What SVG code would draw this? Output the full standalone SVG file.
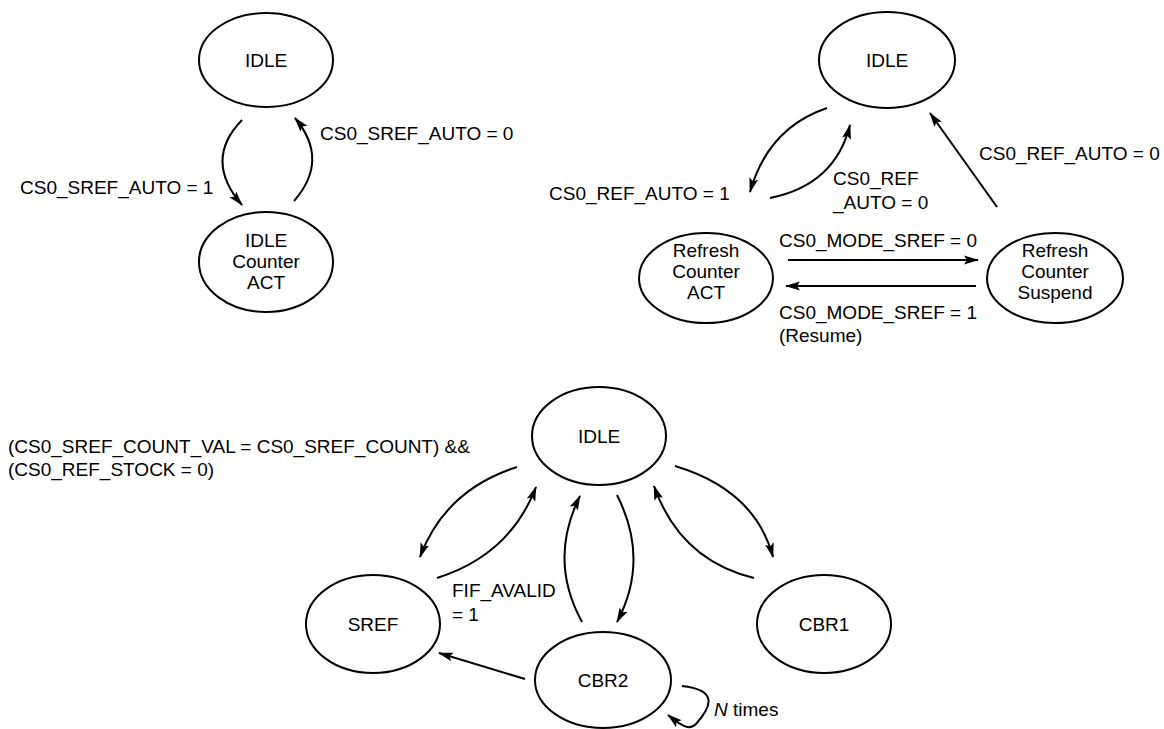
<svg xmlns="http://www.w3.org/2000/svg" width="1164" height="729" viewBox="0 0 1164 729">
<style>
  .node ellipse { fill: #fff; stroke: #000; stroke-width: 2; }
  text { font-family: "Liberation Sans", Arial, sans-serif; font-size: 19px; fill: #000; }
  .c { text-anchor: middle; }
  .edge { fill: none; stroke: #000; stroke-width: 2; marker-end: url(#arr); }
</style>
<defs>
  <marker id="arr" viewBox="0 0 15 10" refX="14" refY="5" markerWidth="15" markerHeight="10" markerUnits="userSpaceOnUse" orient="auto">
    <path d="M0,0.5 L15,5 L0,9.5 L3,5 Z" fill="#000"/>
  </marker>
</defs>
<rect width="1164" height="729" fill="#fff"/>

<g id="tl-idle" class="node"><ellipse cx="266" cy="60" rx="67" ry="47"/><text class="c" x="266" y="67">IDLE</text></g>
<g id="tl-counter" class="node"><ellipse cx="266" cy="262" rx="67" ry="50"/>
  <text class="c" x="266" y="247">IDLE</text><text class="c" x="266" y="268">Counter</text><text class="c" x="266" y="289">ACT</text></g>

<g id="tr-idle" class="node"><ellipse cx="887" cy="60" rx="68" ry="48"/><text class="c" x="887" y="67">IDLE</text></g>
<g id="tr-act" class="node"><ellipse cx="706" cy="278" rx="67" ry="45"/>
  <text class="c" x="706" y="257">Refresh</text><text class="c" x="706" y="278">Counter</text><text class="c" x="706" y="299">ACT</text></g>
<g id="tr-suspend" class="node"><ellipse cx="1055" cy="278" rx="68" ry="45"/>
  <text class="c" x="1055" y="257">Refresh</text><text class="c" x="1055" y="278">Counter</text><text class="c" x="1055" y="299">Suspend</text></g>

<g id="b-idle" class="node"><ellipse cx="599" cy="436" rx="67" ry="49"/><text class="c" x="599" y="443">IDLE</text></g>
<g id="b-sref" class="node"><ellipse cx="373" cy="624" rx="67" ry="49"/><text class="c" x="373" y="631">SREF</text></g>
<g id="b-cbr1" class="node"><ellipse cx="824" cy="624" rx="67" ry="49"/><text class="c" x="824" y="631">CBR1</text></g>
<g id="b-cbr2" class="node"><ellipse cx="603" cy="680" rx="68" ry="48"/><text class="c" x="603" y="687">CBR2</text></g>

<g id="connectors">
  <path class="edge" d="M242,120 Q203,160 242,205"/>
  <path class="edge" d="M294,201 Q330,160 295,118"/>

  <path class="edge" d="M827,108 Q768,128 750,192"/>
  <path class="edge" d="M770,198 Q835,185 850,125"/>
  <path class="edge" d="M997,207 L930,113"/>
  <path class="edge" d="M788,260 L978,260"/>
  <path class="edge" d="M976,286 L786,286"/>

  <path class="edge" d="M517,467 Q445,490 420,557"/>
  <path class="edge" d="M437,578 Q510,555 536,487"/>
  <path class="edge" d="M582,622 Q548,560 580,496"/>
  <path class="edge" d="M617,495 Q650,560 617,622"/>
  <path class="edge" d="M675,466 Q755,490 773,557"/>
  <path class="edge" d="M754,578 Q680,560 654,486"/>
  <path class="edge" d="M525,679 L439,653"/>
  <path class="edge" d="M682,686 C718,690 712,706 696,724 C690,730 684,728 668,715"/>
</g>

<g id="labels">
  <text x="320" y="140">CS0_SREF_AUTO = 0</text>
  <text x="20" y="194">CS0_SREF_AUTO = 1</text>

  <text x="549" y="200">CS0_REF_AUTO = 1</text>
  <text x="833" y="185">CS0_REF</text>
  <text x="833" y="209">_AUTO = 0</text>
  <text x="979" y="160">CS0_REF_AUTO = 0</text>
  <text x="779" y="247">CS0_MODE_SREF = 0</text>
  <text x="779" y="319">CS0_MODE_SREF = 1</text>
  <text x="779" y="342">(Resume)</text>

  <text x="8" y="453">(CS0_SREF_COUNT_VAL = CS0_SREF_COUNT) &amp;&amp;</text>
  <text x="8" y="476">(CS0_REF_STOCK = 0)</text>
  <text x="452" y="597">FIF_AVALID</text>
  <text x="452" y="621">= 1</text>
  <text x="714" y="716"><tspan font-style="italic">N</tspan> times</text>
</g>
</svg>
